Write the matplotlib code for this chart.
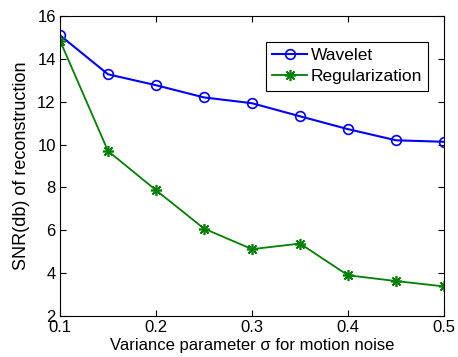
import numpy as np
import matplotlib
matplotlib.use("Agg")
import matplotlib.pyplot as plt

plt.rcParams["font.family"] = ["Liberation Sans", "DejaVu Sans"]

# data
sigma = [0.1, 0.15, 0.2, 0.25, 0.3, 0.35, 0.4, 0.45, 0.5]
snr_wavelet = [15.1, 13.28, 12.77, 12.2, 11.93, 11.32, 10.72, 10.2, 10.13]
snr_regular = [14.85, 9.7, 7.87, 6.08, 5.12, 5.38, 3.9, 3.63, 3.38]

xticks = [0.1, 0.2, 0.3, 0.4, 0.5]
yticks = [2, 4, 6, 8, 10, 12, 14, 16]

fig = plt.figure(figsize=(4.58, 3.57), dpi=100)
ax = fig.add_axes([60 / 458, 1 - 316 / 357, 384 / 458, 300 / 357])

ax.plot(sigma, snr_wavelet, color="#0000ff", lw=1.5, marker="o", ms=7,
        mfc="none", mew=1.2, label="Wavelet")
ax.plot(sigma, snr_regular, color="#008000", lw=1.3, marker=(8, 2, 0), ms=8,
        mew=1.2, label="Regularization")

ax.set_xlim(0.1, 0.5)
ax.set_ylim(2, 16)
ax.set_xticks(xticks)
ax.set_xticklabels([f"{t:g}" for t in xticks])
ax.set_yticks(yticks)
ax.tick_params(direction="in", top=True, right=True, labelsize=12, length=4,
               width=0.8, pad=3)
for s in ax.spines.values():
    s.set_linewidth(0.8)

ax.set_xlabel("Variance parameter σ for motion noise", fontsize=12, labelpad=2)
ax.set_ylabel("SNR(db) of reconstruction", fontsize=13, labelpad=5)

leg = ax.legend(loc="upper right", bbox_to_anchor=(428 / 458, 1 - 42 / 357),
                bbox_transform=fig.transFigure, fancybox=False, framealpha=1,
                edgecolor="black", fontsize=12.5, handlelength=2.0,
                borderpad=0.35, labelspacing=0.35, handletextpad=0.2,
                borderaxespad=0)
leg.get_frame().set_linewidth(0.8)

fig.savefig("out.png", dpi=100)
